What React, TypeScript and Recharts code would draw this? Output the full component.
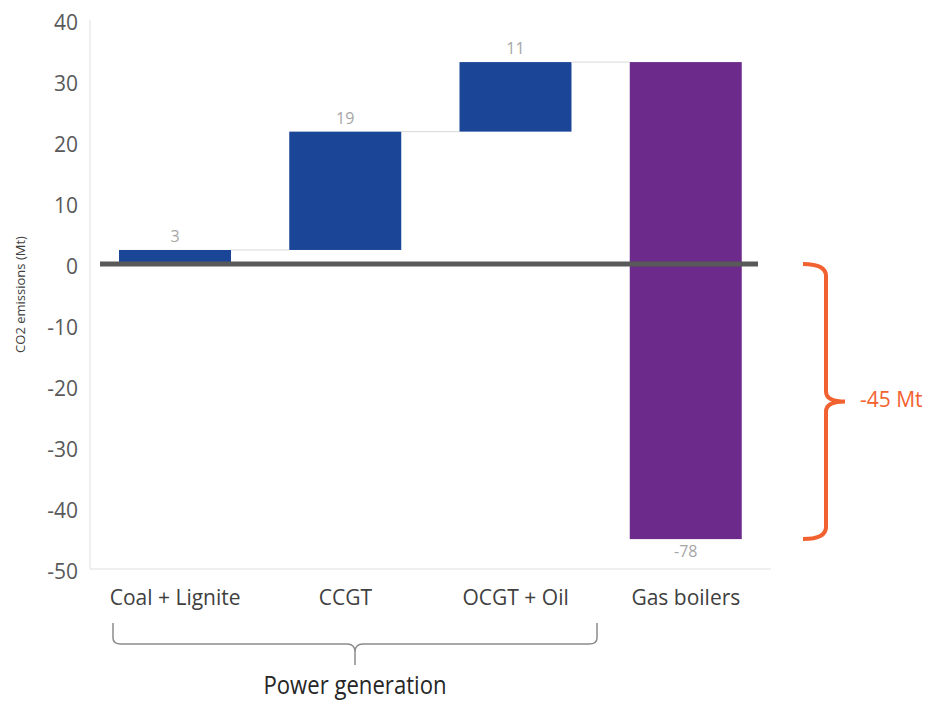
import { BarChart, Bar, XAxis, YAxis, ReferenceLine, LabelList } from 'recharts';

// waterfall steps (Mt CO2)
const categories = ['Coal + Lignite', 'CCGT', 'OCGT + Oil', 'Gas boilers'];
const changes = [2.3, 19.4, 11.4, -78.2];
const changeLabels = ['3', '19', '11', '-78'];
const yTicks = [-50, -40, -30, -20, -10, 0, 10, 20, 30, 40];
const groupLabel = 'Power generation';
const netLabel = '-45 Mt';

const W = 931;
const H = 702;
const M = { top: 20, right: 160, bottom: 0, left: 0 };
const Y_AXIS_W = 90;
const X_AXIS_H = 133;
const PLOT_L = M.left + Y_AXIS_W;
const PLOT_R = W - M.right;
const PLOT_T = M.top;
const PLOT_B = H - M.bottom - X_AXIS_H;
const STEP = (PLOT_R - PLOT_L) / categories.length;
const DOMAIN: [number, number] = [-50, 40];

const BLUE = '#1b4698';
const PURPLE = '#6c2a8b';
const ORANGE = '#f26230';

let run = 0;
const rows = categories.map((name, i) => {
    const start = run;
    run += changes[i];
    return { name, range: [Math.min(start, run), Math.max(start, run)], end: run };
});
const netTotal = run;

const yPx = (v: number) => PLOT_T + ((DOMAIN[1] - v) / (DOMAIN[1] - DOMAIN[0])) * (PLOT_B - PLOT_T);

const StepBar = (props: any) => {
    const { x, y, width, height, index } = props;
    const top = Math.min(y, y + height);
    const bottom = Math.max(y, y + height);
    const endY = changes[index] >= 0 ? top : bottom;
    const fill = index === categories.length - 1 ? PURPLE : BLUE;
    return (
        <g>
            <rect x={x} y={top} width={width} height={bottom - top} fill={fill} />
            {index < categories.length - 1 && (
                <line x1={x + width} x2={x + STEP} y1={endY} y2={endY} stroke="#d9d9d9" strokeWidth={1} />
            )}
        </g>
    );
};

const StepLabel = (props: any) => {
    const { x, y, width, height, index } = props;
    const top = Math.min(y, y + height);
    const bottom = Math.max(y, y + height);
    const ch = changes[index];
    return (
        <text
            x={x + width / 2}
            y={ch >= 0 ? top - 12 : bottom + 14}
            textAnchor="middle"
            dominantBaseline="middle"
            fill="#a6a6a6"
            fontSize={16}
            fontFamily="'Open Sans', sans-serif"
        >
            {changeLabels[index]}
        </text>
    );
};

const ZeroLine = (props: any) => {
    const { x1, x2, y1, y2 } = props;
    return <line x1={x1 + 10} x2={x2 - 13} y1={y1} y2={y2} stroke="#595959" strokeWidth={5} />;
};

export default function App() {
    const midY = yPx(netTotal / 2);
    const zeroY = yPx(0);
    const netY = yPx(netTotal);
    const gx1 = 113;
    const gx2 = 597;
    const gmid = 355;
    return (
        <div style={{ position: 'absolute', left: 0, top: 0, width: W, height: H, background: '#fff' }}>
            <BarChart width={W} height={H} data={rows} margin={M} barSize={112}>
                <YAxis
                    domain={DOMAIN}
                    ticks={yTicks}
                    interval={0}
                    width={Y_AXIS_W}
                    axisLine={{ stroke: '#e0e0e0' }}
                    tickLine={false}
                    tickMargin={6}
                    tick={{ fill: '#595959', fontSize: 21, dy: 3, fontFamily: "'Open Sans', sans-serif" }}
                    label={{
                        value: 'CO2 emissions (Mt)',
                        angle: -90,
                        position: 'insideLeft',
                        offset: 20,
                        fill: '#404040',
                        fontSize: 13,
                        fontFamily: "'Open Sans', sans-serif",
                        style: { textAnchor: 'middle' },
                    }}
                />
                <XAxis
                    dataKey="name"
                    height={X_AXIS_H}
                    axisLine={{ stroke: '#e0e0e0' }}
                    tickLine={false}
                    tickMargin={15}
                    tick={{ fill: '#404040', fontSize: 21, fontFamily: "'Open Sans', sans-serif" }}
                />
                <Bar dataKey="range" shape={StepBar} isAnimationActive={false}>
                    <LabelList dataKey="range" content={StepLabel} />
                </Bar>
                <ReferenceLine y={0} shape={ZeroLine} />
            </BarChart>
            <svg width={W} height={H} style={{ position: 'absolute', left: 0, top: 0, pointerEvents: 'none' }}>
                <path
                    d={`M${gx1},623 L${gx1},638 Q${gx1},644 ${gx1 + 8},644 L${gmid - 8},644 Q${gmid},644 ${gmid},652 L${gmid},665 M${gmid},652 Q${gmid},644 ${gmid + 8},644 L${gx2 - 8},644 Q${gx2},644 ${gx2},638 L${gx2},623`}
                    fill="none"
                    stroke="#8c8c8c"
                    strokeWidth={1.5}
                />
                <text
                    x={gmid}
                    y={687}
                    textAnchor="middle"
                    dominantBaseline="middle"
                    fill="#262626"
                    fontSize={26}
                    textLength={183}
                    lengthAdjust="spacingAndGlyphs"
                    fontFamily="'Open Sans', sans-serif"
                >
                    {groupLabel}
                </text>
                <path
                    d={`M803,${zeroY} Q826,${zeroY} 826,${zeroY + 12} L826,${midY - 10} Q826,${midY} 845,${midY} Q826,${midY} 826,${midY + 10} L826,${netY - 12} Q826,${netY} 803,${netY}`}
                    fill="none"
                    stroke={ORANGE}
                    strokeWidth={4}
                />
                <text
                    x={860}
                    y={midY}
                    dominantBaseline="middle"
                    fill={ORANGE}
                    fontSize={21}
                    fontFamily="'Open Sans', sans-serif"
                >
                    {netLabel}
                </text>
            </svg>
        </div>
    );
}
